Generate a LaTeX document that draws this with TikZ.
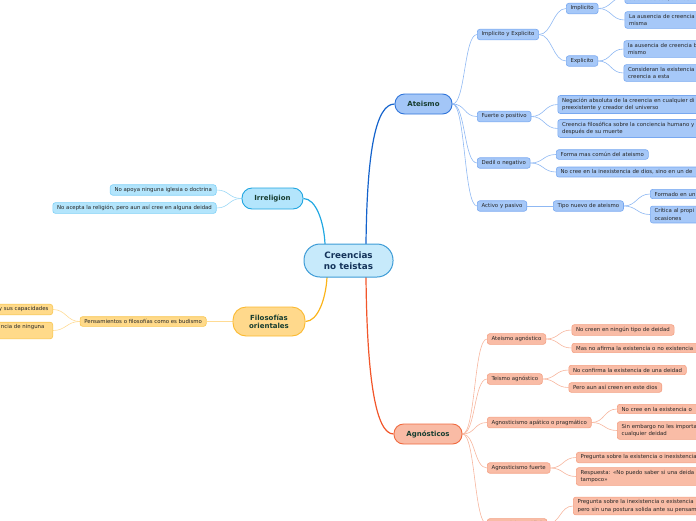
\documentclass[tikz,border=0pt]{standalone}
\usepackage{fontspec}
\setmainfont{DejaVu Sans}
\usetikzlibrary{backgrounds}
\definecolor{cfill}{HTML}{C7EAFB}
\definecolor{cborder}{HTML}{3C9BD6}
\definecolor{ctxt}{HTML}{14335A}
\definecolor{ttxt}{HTML}{173D30}
\definecolor{stxt}{HTML}{262626}
\definecolor{atfill}{HTML}{A3C6F7}
\definecolor{atborder}{HTML}{2F74DA}
\definecolor{atline}{HTML}{1463CC}
\definecolor{irfill}{HTML}{B3E5FC}
\definecolor{irborder}{HTML}{1FA5E0}
\definecolor{irline}{HTML}{22A8E2}
\definecolor{fifill}{HTML}{FFD98C}
\definecolor{fiborder}{HTML}{FBB92F}
\definecolor{filine}{HTML}{FBB41A}
\definecolor{agfill}{HTML}{F9BBA5}
\definecolor{agborder}{HTML}{F06A3F}
\definecolor{agline}{HTML}{F2562A}
\definecolor{bluefill}{HTML}{A6C8F8}
\definecolor{blueborder}{HTML}{78A8F0}
\definecolor{blueline}{HTML}{8FB8F3}
\definecolor{cyanfill}{HTML}{B3E5FC}
\definecolor{cyanborder}{HTML}{7FD0F6}
\definecolor{cyanline}{HTML}{9ED9F6}
\definecolor{yelfill}{HTML}{FFDA8A}
\definecolor{yelborder}{HTML}{F8C650}
\definecolor{yelline}{HTML}{FFDB94}
\definecolor{salfill}{HTML}{F9BCA6}
\definecolor{salborder}{HTML}{F4A083}
\definecolor{salline}{HTML}{F7B69E}
\begin{document}
\begin{tikzpicture}[x=1pt,y=-1pt,
  central/.style={draw=cborder, fill=cfill, line width=1pt, rounded corners=16pt,
    minimum width=89pt, minimum height=33pt, inner sep=1pt, align=center,
    text=ctxt, font=\fontsize{8.8}{10.5}\selectfont\bfseries},
  topic/.style={draw, line width=0.9pt, inner sep=1pt, align=center,
    text=ttxt, font=\fontsize{7}{8.3}\selectfont\bfseries},
  sub/.style={draw, rounded corners=2.5pt, line width=0.6pt, inner xsep=4.3pt,
    inner ysep=2.6pt, align=left, text=stxt, font=\fontsize{5.4}{7.3}\selectfont},
  bsub/.style={sub, fill=bluefill, draw=blueborder, anchor=west},
  csub/.style={sub, fill=cyanfill, draw=cyanborder, anchor=east},
  ysub/.style={sub, fill=yelfill, draw=yelborder, anchor=east},
  ssub/.style={sub, fill=salfill, draw=salborder, anchor=west},
  mainlink/.style={line width=1.2pt},
  link/.style={line width=0.6pt},
  clipw/.style={text width=#1}
]
\useasboundingbox (0,0) rectangle (696,520);
\clip (0,0) rectangle (696,520);

% central and topics
\node[central] (c) at (348.5,260.5) {Creencias\\no teistas};
\node[topic, fill=atfill, draw=atborder, minimum width=57pt, minimum height=20pt, rounded corners=9.5pt] (at) at (423.5,104) {Ateismo};
\node[topic, fill=irfill, draw=irborder, minimum width=61pt, minimum height=21pt, rounded corners=10pt] (ir) at (272.5,198.5) {Irreligion};
\node[topic, fill=fifill, draw=fiborder, minimum width=72pt, minimum height=29pt, rounded corners=13pt] (fi) at (269,321.5) {Filosofías\\orientales};
\node[topic, fill=agfill, draw=agborder, minimum width=68pt, minimum height=20pt, rounded corners=9.5pt] (ag) at (428,434) {Agnósticos};

\coordinate (cTL) at (325,244);
\coordinate (cTR) at (366,244);
\coordinate (cBL) at (327,277);
\coordinate (cBR) at (366,277);

% Ateismo branch
\node[bsub] (ie) at (477,34.5) {Implicito y Explicito};
\node[bsub] (fp) at (477,116.5) {Fuerte o positivo};
\node[bsub] (dn) at (477,163) {Dedil o negativo};
\node[bsub] (ap) at (477,206) {Activo y pasivo};
\node[bsub] (im) at (566,8.5) {Implicito};
\node[bsub] (ex) at (566,61) {Explicito};
\node[bsub, clipw=120pt] (im1) at (624.5,-3) {\mbox{}\\de una deidad, aun así l};
\node[bsub, clipw=120pt] (im2) at (624.5,20) {La ausencia de creencia\\misma};
\node[bsub, clipw=120pt] (ex1) at (623.5,49) {la ausencia de creencia b\\mismo};
\node[bsub, clipw=120pt] (ex2) at (623.5,73) {Consideran la existencia\\creencia a esta};
\node[bsub, clipw=160pt] (fp1) at (557.5,104.5) {Negación absoluta de la creencia en cualquier di\\preexistente y creador del universo};
\node[bsub, clipw=160pt] (fp2) at (557.5,128.5) {Creencia filosófica sobre la conciencia humano y\\después de su muerte};
\node[bsub] (dn1) at (556,154.5) {Forma mas común del ateismo};
\node[bsub, clipw=160pt] (dn2) at (556,172) {No cree en la inexistencia de dios, sino en un de};
\node[bsub] (tn) at (553,206) {Tipo nuevo de ateismo};
\node[bsub, clipw=80pt] (tn1) at (650,194) {Formado en un};
\node[bsub, clipw=80pt] (tn2) at (650,214.5) {Crítica al propi\\ocasiones};

% Irreligion branch
\node[csub] (ir1) at (216.5,190) {No apoya ninguna iglesia o doctrina};
\node[csub] (ir2) at (216.5,208) {No acepta la religión, pero aun así cree en alguna deidad};

% Filosofias branch
\node[ysub] (pe) at (206.5,321.5) {Pensamientos o filosofías como es budismo};
\node[ysub, clipw=100pt, align=right] (pe1) at (53,309.5) {y sus capacidades};
\node[ysub, clipw=100pt, align=right] (pe2) at (53,330.5) {ncia de ninguna\kern4pt\\\mbox{}};

% Agnosticos branch
\node[ssub] (aa) at (487,339) {Ateismo agnóstico};
\node[ssub] (ta) at (487,379) {Teismo agnóstico};
\node[ssub] (aap) at (487,422.5) {Agnosticismo apático o pragmático};
\node[ssub] (af) at (487,468) {Agnosticismo fuerte};
\node[ssub] (ad) at (487,524) {Agnosticismo débil};
\node[ssub] (aa1) at (571.5,330) {No creen en ningún tipo de deidad};
\node[ssub, clipw=160pt] (aa2) at (571.5,348) {Mas no afirma la existencia o no existencia};
\node[ssub] (ta1) at (568.5,370) {No confirma la existencia de una deidad};
\node[ssub] (ta2) at (568.5,387.5) {Pero aun así creen en este dios};
\node[ssub, clipw=120pt] (aap1) at (617,409) {No cree en la existencia o};
\node[ssub, clipw=120pt] (aap2) at (617,430.5) {Sin embargo no les importa\\cualquier deidad};
\node[ssub, clipw=160pt] (af1) at (576,457.5) {Pregunta sobre la existencia o inexistencia};
\node[ssub, clipw=160pt] (af2) at (576,476.5) {Respuesta: «No puedo saber si una deida\\tampoco»};
\node[ssub, clipw=160pt] (ad1) at (573,506) {Pregunta sobre la inexistencia o existencia\\pero sin una postura solida ante su pensam};

\begin{pgfonlayer}{background}
  % main links
  \draw[mainlink, atline] (cTR) .. controls (367,150) and (376,104) .. (at.west);
  \draw[mainlink, irline] (ir.east) .. controls (316,198.5) and (324,222) .. (cTL);
  \draw[mainlink, filine] (fi.east) .. controls (318,321.5) and (326,298) .. (cBL);
  \draw[mainlink, agline] (cBR) .. controls (367,380) and (376,434) .. (ag.west);
  % right-going links
  \foreach \a/\b in {at/ie,at/fp,at/dn,at/ap,ie/im,ie/ex,im/im1,im/im2,ex/ex1,ex/ex2,
                     fp/fp1,fp/fp2,dn/dn1,dn/dn2,ap/tn,tn/tn1,tn/tn2}
    \draw[link, blueline] (\a.east) .. controls +(13,0) and +(-13,0) .. (\b.west);
  \foreach \a/\b in {ag/aa,ag/ta,ag/aap,ag/af,ag/ad,aa/aa1,aa/aa2,ta/ta1,ta/ta2,
                     aap/aap1,aap/aap2,af/af1,af/af2,ad/ad1}
    \draw[link, salline] (\a.east) .. controls +(13,0) and +(-13,0) .. (\b.west);
  % left-going links
  \foreach \a/\b in {ir/ir1,ir/ir2}
    \draw[link, cyanline] (\a.west) .. controls +(-13,0) and +(13,0) .. (\b.east);
  \foreach \a/\b in {fi/pe,pe/pe1,pe/pe2}
    \draw[link, yelline] (\a.west) .. controls +(-13,0) and +(13,0) .. (\b.east);
\end{pgfonlayer}
\end{tikzpicture}
\end{document}
